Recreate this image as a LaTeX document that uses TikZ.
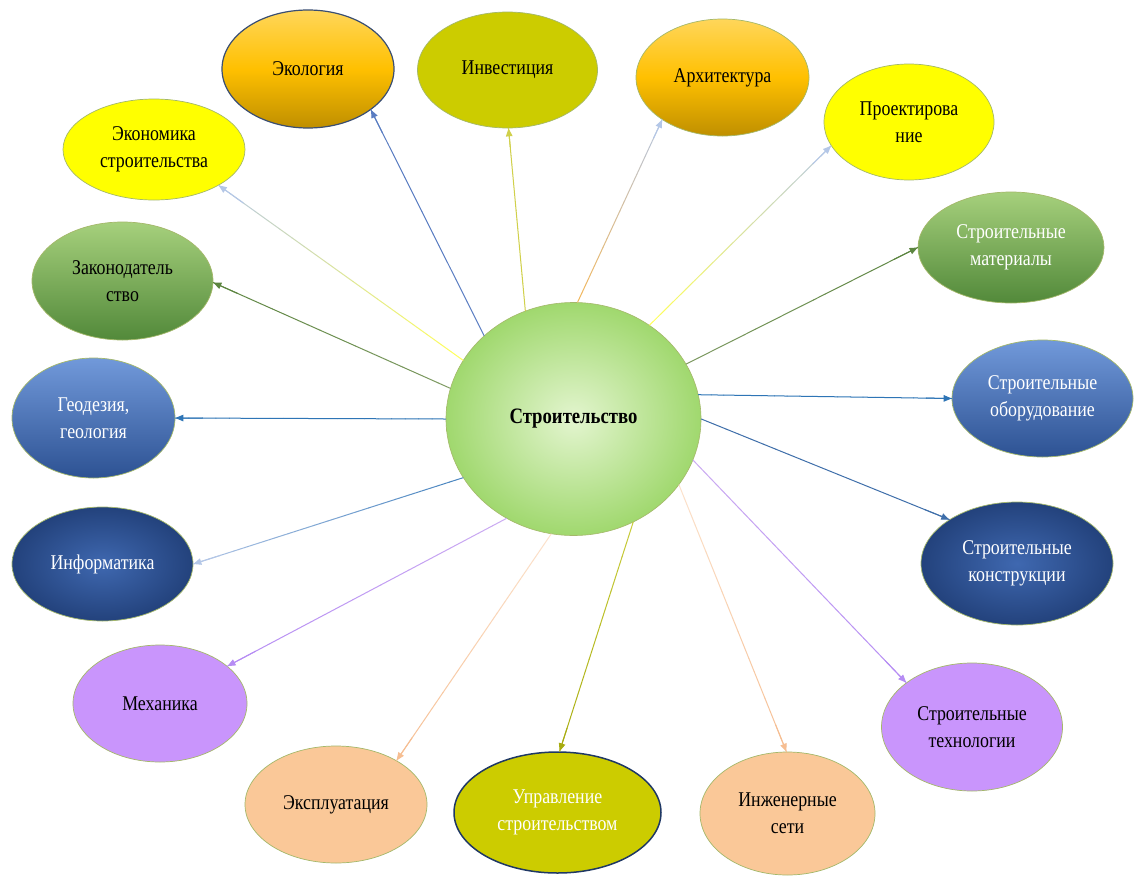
\documentclass[tikz,border=0pt]{standalone}
\usepackage{fontspec}
\setmainfont{Liberation Serif}[FakeStretch=0.85]
\usetikzlibrary{shapes.geometric,arrows.meta,calc}

% fills
\definecolor{goldTop}{HTML}{FFD65A}
\definecolor{goldMid}{HTML}{FFC000}
\definecolor{goldBot}{HTML}{BF8F00}
\definecolor{olive}{HTML}{CCCC00}
\definecolor{lemon}{HTML}{FFFF00}
\definecolor{greenTop}{HTML}{A6D07C}
\definecolor{greenBot}{HTML}{52893A}
\definecolor{blueTop}{HTML}{7199DA}
\definecolor{blueBot}{HTML}{2D5293}
\definecolor{navyIn}{HTML}{3F68B0}
\definecolor{navyOut}{HTML}{23427C}
\definecolor{lilac}{HTML}{C995FC}
\definecolor{peach}{HTML}{FAC898}
\definecolor{hubIn}{HTML}{E3F5CF}
\definecolor{hubOut}{HTML}{A0D86E}
% outlines
\definecolor{rim}{HTML}{A4B86A}
\definecolor{rimDark}{HTML}{3A4E72}
\definecolor{rimNavy}{HTML}{1F3864}
% connector colours
\definecolor{lnBlue}{HTML}{5A7DC2}
\definecolor{lnOlive}{HTML}{D0D04A}
\definecolor{lnOrange}{HTML}{F2B85E}
\definecolor{lnSky}{HTML}{B4C7E7}
\definecolor{lnYellow}{HTML}{FFFF5A}
\definecolor{lnSage}{HTML}{7E9A62}
\definecolor{lnGreen}{HTML}{5C8540}
\definecolor{lnAzure}{HTML}{2E75B6}
\definecolor{lnSteel}{HTML}{4A86C0}
\definecolor{lnCobalt}{HTML}{3F6FAA}
\definecolor{lnLilacA}{HTML}{CBABF2}
\definecolor{lnLilacB}{HTML}{B68CF4}
\definecolor{lnPeachA}{HTML}{FCE2CC}
\definecolor{lnPeachB}{HTML}{F6BE92}
\definecolor{lnMoss}{HTML}{C8CC3A}
\definecolor{lnMossB}{HTML}{A8AC10}

\tikzset{
  bubble/.style={ellipse, inner sep=0pt, align=center,
    font=\fontsize{21}{27}\selectfont, draw=rim, line width=0.7pt},
  gold/.style={top color=goldTop, bottom color=goldBot, middle color=goldMid},
  greenish/.style={top color=greenTop, bottom color=greenBot},
  bluish/.style={top color=blueTop, bottom color=blueBot, text=white},
  navy/.style={inner color=navyIn, outer color=navyOut, text=white},
  link/.style={line width=1pt, line cap=round},
  tip/.style={-{Triangle[length=8pt,width=6.5pt]}}
}

% connector whose colour runs from #3 at the hub to #4 at the target
\newcommand\gradlink[4]{%
  \foreach \k in {1,...,20}{%
    \pgfmathsetmacro\ta{(\k-1)/20}%
    \pgfmathsetmacro\tb{\k/20}%
    \pgfmathtruncatemacro\pc{100-(\k-1)*5}%
    \draw[link, color=#3!\pc!#4] ($(#1)!\ta!(#2)$) -- ($(#1)!\tb!(#2)$);
  }%
  \draw[link, tip, color=#4] ($(#1)!0.9!(#2)$) -- (#2);
}

\begin{document}
\begin{tikzpicture}[x=1pt, y=-1pt]
\useasboundingbox (0,0) rectangle (1135,876);
\fill[white] (0,0) rectangle (1135,876);

% hub
\node[ellipse, inner sep=0pt, minimum width=255pt, minimum height=233pt,
      inner color=hubIn, outer color=hubOut, draw=rim, line width=0.6pt,
      font=\fontsize{22}{27}\selectfont\bfseries] (c) at (573.5,419) {Строительство};

% surrounding topics
\node[bubble, gold, draw=rimDark, line width=1.2pt, minimum width=172pt, minimum height=118pt] (eco) at (308,69) {Экология};
\node[bubble, fill=olive, minimum width=180pt, minimum height=116pt] (inv) at (507.5,70) {Инвестиция};
\node[bubble, gold, minimum width=173pt, minimum height=117pt] (arch) at (722.5,77.5) {Архитектура};
\node[bubble, fill=lemon, minimum width=170pt, minimum height=116pt] (proj) at (909,122) {Проектирова\\ние};
\node[bubble, fill=lemon, minimum width=182pt, minimum height=101pt] (econ) at (154,149.5) {Экономика\\строительства};
\node[bubble, greenish, minimum width=181pt, minimum height=118pt] (law) at (122.5,281) {Законодатель\\ство};
\node[bubble, greenish, text=white, minimum width=186pt, minimum height=111pt] (mat) at (1011,247.5) {Строительные\\материалы};
\node[bubble, bluish, minimum width=163pt, minimum height=120pt] (geo) at (93.5,418) {Геодезия,\\геология};
\node[bubble, bluish, minimum width=181pt, minimum height=117pt] (equip) at (1042.5,398.5) {Строительные\\оборудование};
\node[bubble, navy, minimum width=181pt, minimum height=114pt] (inf) at (102.5,564) {Информатика};
\node[bubble, navy, minimum width=192pt, minimum height=123pt] (cons) at (1017,563.5) {Строительные\\конструкции};
\node[bubble, fill=lilac, minimum width=174pt, minimum height=117pt] (mech) at (160,703.5) {Механика};
\node[bubble, fill=lilac, minimum width=181pt, minimum height=128pt] (tech) at (972,727) {Строительные\\технологии};
\node[bubble, fill=peach, minimum width=182pt, minimum height=117pt] (expl) at (336,804.5) {Эксплуатация};
\node[bubble, fill=olive, text=white, draw=rimNavy, line width=1.5pt, minimum width=207pt, minimum height=121pt] (mgmt) at (557.5,812.5) {Управление\\строительством};
\node[bubble, fill=peach, minimum width=175pt, minimum height=123pt] (eng) at (787.5,813.5) {Инженерные\\сети};

% connectors from the hub
\gradlink{c.137}{eco.-33}{lnBlue}{lnBlue}
\gradlink{c.114.5}{inv.-89}{lnOlive}{lnOlive}
\gradlink{c.88}{arch.-145}{lnOrange}{lnSky}
\gradlink{c.51}{proj.-163}{lnYellow}{lnSky}
\gradlink{c.152}{econ.-29}{lnYellow}{lnSky}
\gradlink{c.166}{law.-1}{lnSage}{lnGreen}
\gradlink{c.26}{mat.180}{lnSage}{lnGreen}
\gradlink{c.180}{geo.0}{lnAzure}{lnAzure}
\gradlink{c.11}{equip.180}{lnAzure}{lnAzure}
\gradlink{c.-152}{inf.0}{lnSteel}{lnSky}
\gradlink{c.0}{cons.147}{lnCobalt}{lnCobalt}
\gradlink{c.-124}{mech.29.5}{lnLilacA}{lnLilacB}
\gradlink{c.-19}{tech.146}{lnLilacA}{lnLilacB}
\gradlink{c.-101.5}{expl.36}{lnPeachA}{lnPeachB}
\gradlink{c.-60}{mgmt.88}{lnMoss}{lnMossB}
\gradlink{c.-32.6}{eng.91}{lnPeachA}{lnPeachB}
\end{tikzpicture}
\end{document}
